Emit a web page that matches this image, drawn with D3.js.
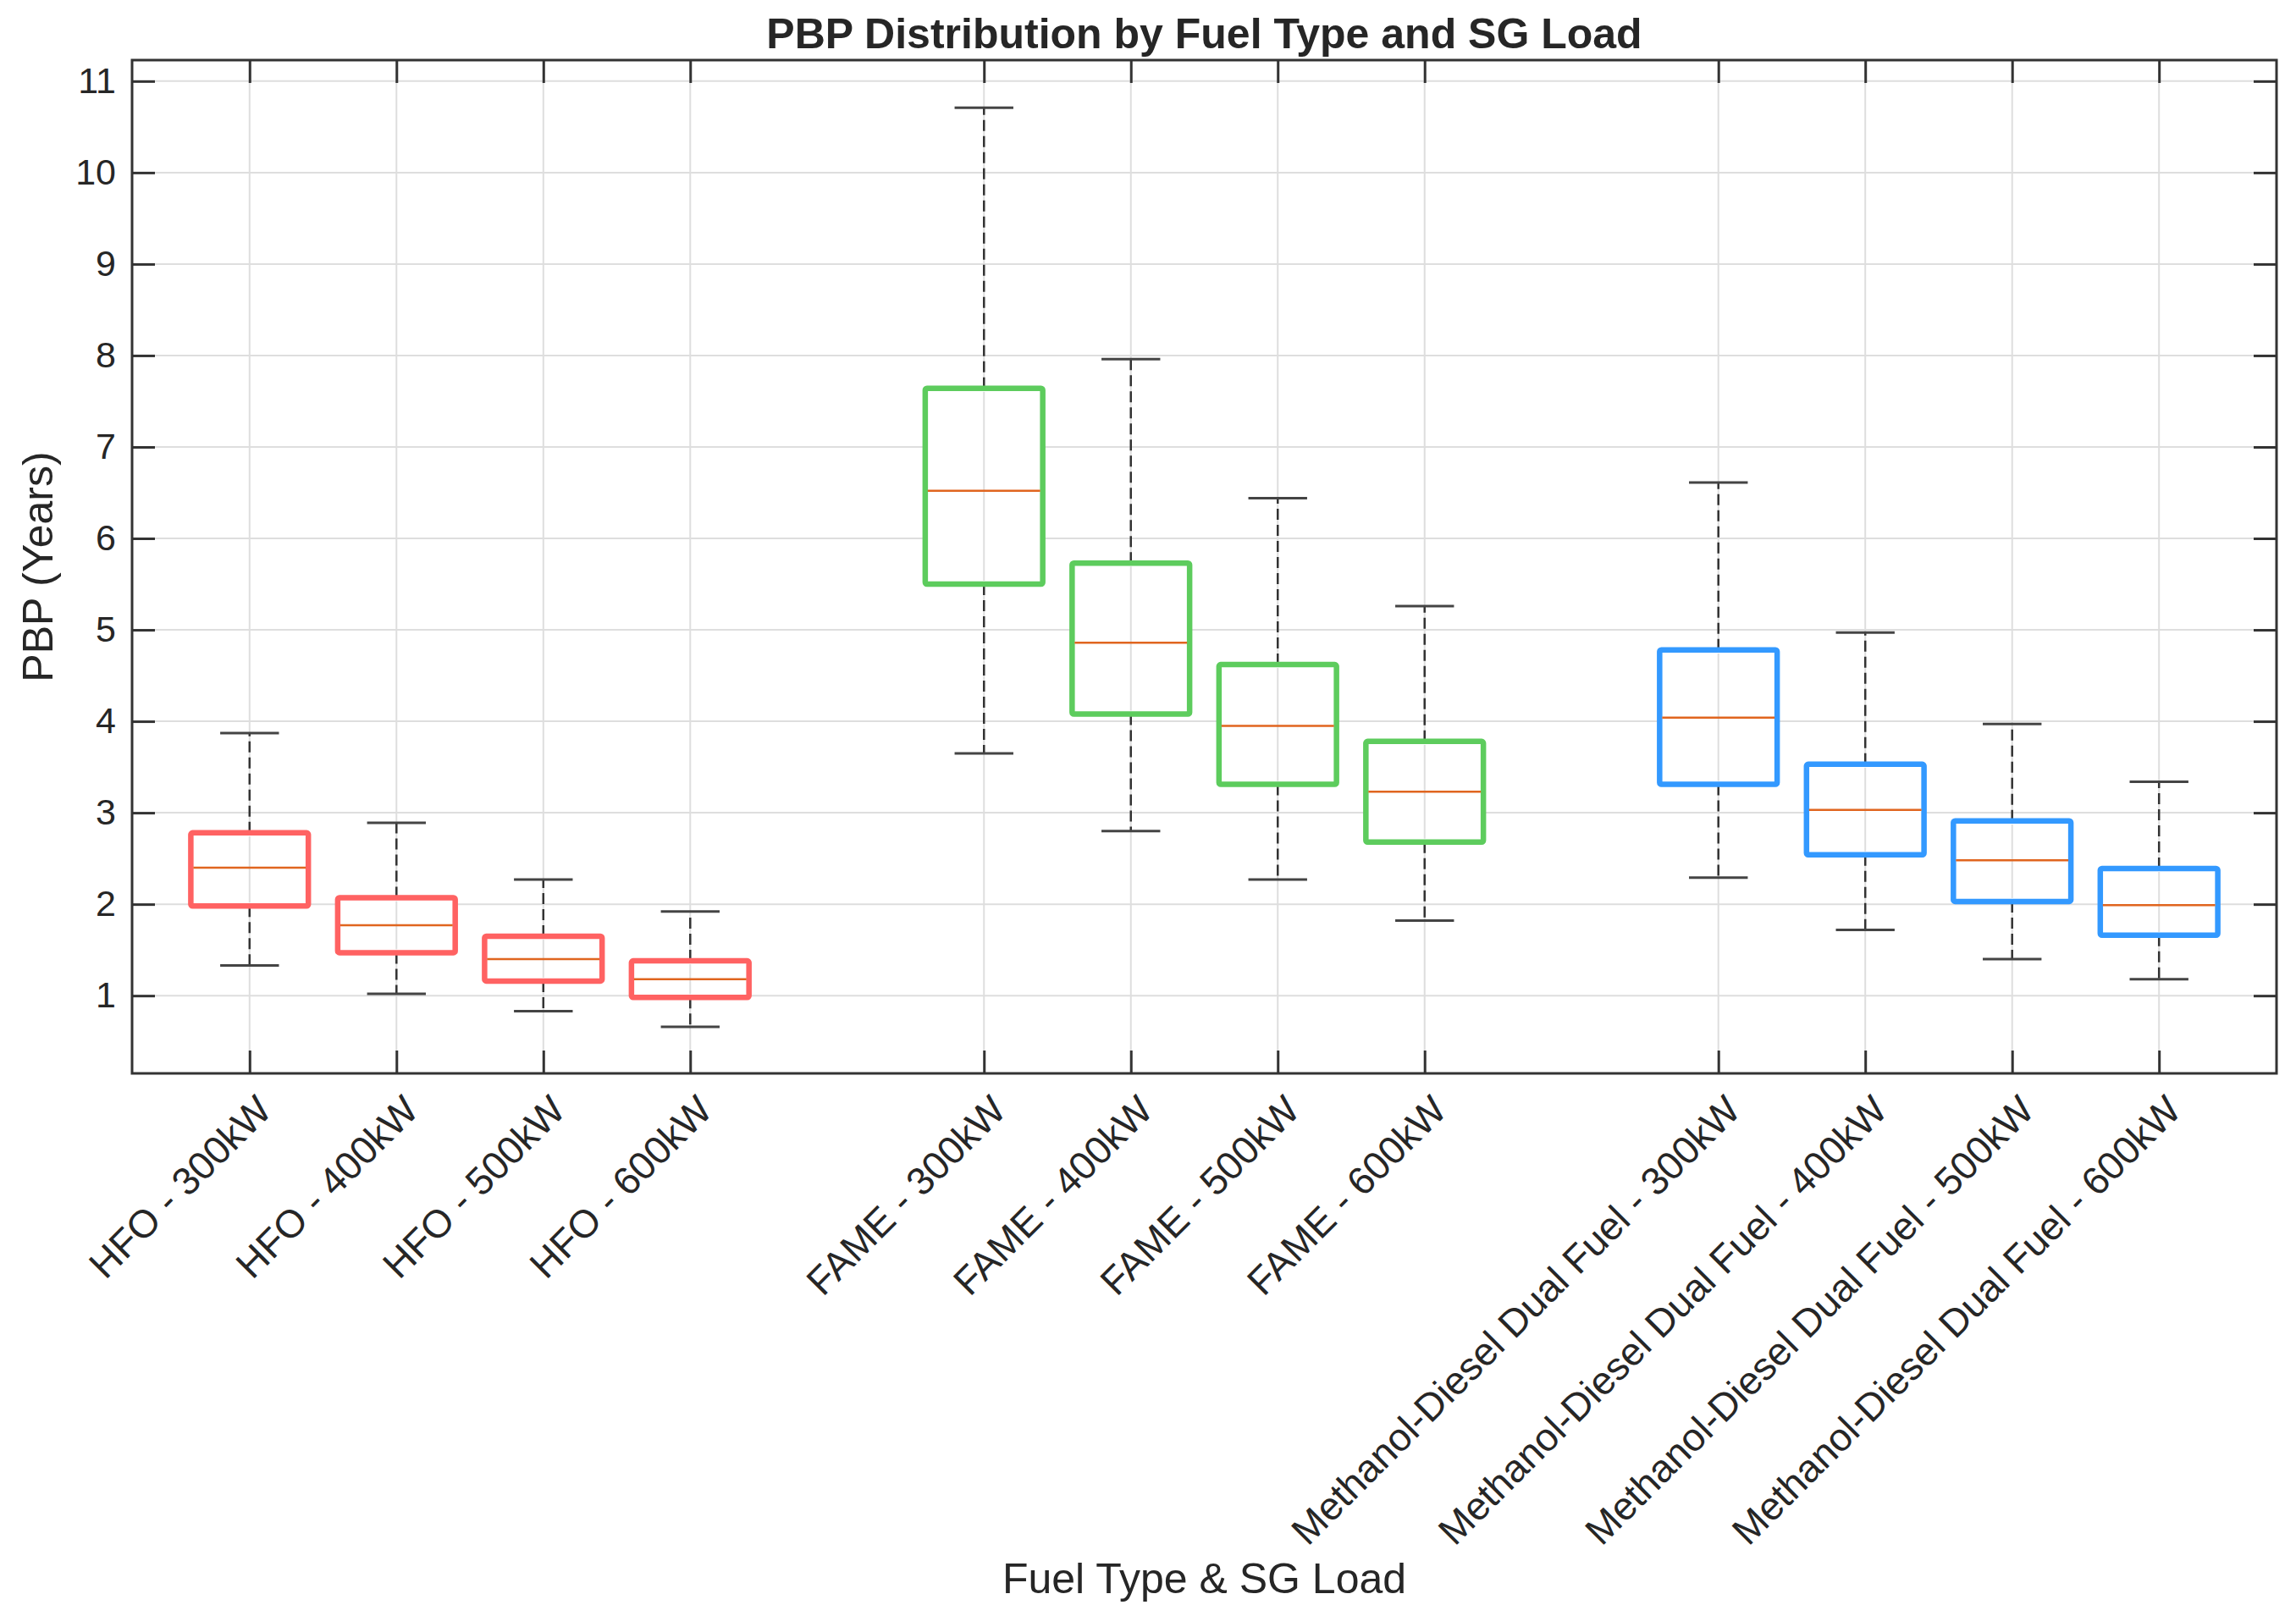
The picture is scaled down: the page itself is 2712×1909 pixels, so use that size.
<!DOCTYPE html>
<html>
<head>
<meta charset="utf-8">
<script src="https://cdn.jsdelivr.net/npm/d3@7"></script>
<style>
  body { margin: 0; background: #fff; }
  text { font-family: "Liberation Sans", Arial, Helvetica, sans-serif; fill: #262626; }
</style>
</head>
<body>
<div id="chart"></div>
<script>
// Categories (x tick labels) and their positions on the axis
var labels = [
  "HFO - 300kW", "HFO - 400kW", "HFO - 500kW", "HFO - 600kW",
  "FAME - 300kW", "FAME - 400kW", "FAME - 500kW", "FAME - 600kW",
  "Methanol-Diesel Dual Fuel - 300kW", "Methanol-Diesel Dual Fuel - 400kW",
  "Methanol-Diesel Dual Fuel - 500kW", "Methanol-Diesel Dual Fuel - 600kW"
];
var positions = [1, 2, 3, 4, 6, 7, 8, 9, 11, 12, 13, 14];
var fuel = ["HFO", "HFO", "HFO", "HFO", "FAME", "FAME", "FAME", "FAME", "MDF", "MDF", "MDF", "MDF"];

// Box statistics (years)
var whiskerLow  = [1.33, 1.02, 0.83, 0.66, 3.65, 2.80, 2.27, 1.82, 2.29, 1.72, 1.40, 1.18];
var q1          = [1.98, 1.47, 1.16, 0.98, 5.50, 4.08, 3.31, 2.68, 3.31, 2.54, 2.03, 1.66];
var median      = [2.40, 1.77, 1.40, 1.18, 6.52, 4.86, 3.95, 3.23, 4.04, 3.03, 2.48, 1.99];
var q3          = [2.78, 2.07, 1.65, 1.38, 7.64, 5.73, 4.62, 3.78, 4.78, 3.53, 2.91, 2.39];
var whiskerHigh = [3.87, 2.89, 2.27, 1.92, 10.71, 7.96, 6.44, 5.26, 6.61, 4.97, 3.97, 3.34];

var yTicks = [1, 2, 3, 4, 5, 6, 7, 8, 9, 10, 11];

var colors = { HFO: "#ff6262", FAME: "#5dcc5d", MDF: "#3399ff" };

var W = 2712, H = 1909;
var margin = {top: 71, right: 23, bottom: 641, left: 156};
var width = W - margin.left - margin.right,
    height = H - margin.top - margin.bottom;

var svg = d3.select("#chart")
  .append("svg")
    .attr("width", W)
    .attr("height", H);

var g = svg.append("g")
  .attr("transform", "translate(" + margin.left + "," + margin.top + ")");

var x = d3.scaleLinear().domain([0.2, 14.8]).range([0, width]);
var y = d3.scaleLinear().domain([0.15, 11.23]).range([height, 0]);

var rows = labels.map(function(l, i) {
  return { label: l, pos: positions[i], fuel: fuel[i],
           lo: whiskerLow[i], q1: q1[i], med: median[i], q3: q3[i], hi: whiskerHigh[i] };
});

// grid
g.append("g")
  .selectAll("line").data(yTicks).join("line")
    .attr("x1", 0).attr("x2", width)
    .attr("y1", d => y(d)).attr("y2", d => y(d))
    .attr("stroke", "#dedede").attr("stroke-width", 2);
g.append("g")
  .selectAll("line").data(positions).join("line")
    .attr("y1", 0).attr("y2", height)
    .attr("x1", d => x(d)).attr("x2", d => x(d))
    .attr("stroke", "#dedede").attr("stroke-width", 2);

// axes (ticks inside, on all four sides)
var tickLen = 27;
var yAxis = g.append("g")
  .call(d3.axisLeft(y).tickValues(yTicks).tickFormat(d3.format("d")).tickSizeInner(-tickLen).tickSizeOuter(0).tickPadding(19));
yAxis.select(".domain").remove();
yAxis.selectAll("line").attr("stroke", "#333").attr("stroke-width", 3);
yAxis.selectAll("text").attr("font-size", 43).attr("fill", "#262626");

var yAxisR = g.append("g").attr("transform", "translate(" + width + ",0)")
  .call(d3.axisRight(y).tickValues(yTicks).tickSizeInner(-tickLen).tickSizeOuter(0).tickFormat(""));
yAxisR.select(".domain").remove();
yAxisR.selectAll("line").attr("stroke", "#333").attr("stroke-width", 3);

var xAxis = g.append("g").attr("transform", "translate(0," + height + ")")
  .call(d3.axisBottom(x).tickValues(positions).tickSizeInner(-tickLen).tickSizeOuter(0)
        .tickFormat((d, i) => labels[i]));
xAxis.select(".domain").remove();
xAxis.selectAll("line").attr("stroke", "#333").attr("stroke-width", 3);
xAxis.selectAll("text")
  .attr("font-size", 46)
  .attr("fill", "#262626")
  .attr("text-anchor", "end")
  .attr("dy", null)
  .attr("y", null)
  .attr("transform", "translate(28,46) rotate(-45)");

var xAxisT = g.append("g")
  .call(d3.axisTop(x).tickValues(positions).tickSizeInner(-tickLen).tickSizeOuter(0).tickFormat(""));
xAxisT.select(".domain").remove();
xAxisT.selectAll("line").attr("stroke", "#333").attr("stroke-width", 3);

// box frame
g.append("rect")
  .attr("x", 0).attr("y", 0).attr("width", width).attr("height", height)
  .attr("fill", "none").attr("stroke", "#333").attr("stroke-width", 3);

// boxes
var boxW = x(0.8) - x(0);
var capW = x(0.4) - x(0);
var boxes = g.append("g").selectAll("g").data(rows).join("g");

// whiskers
boxes.append("line")
  .attr("x1", d => x(d.pos)).attr("x2", d => x(d.pos))
  .attr("y1", d => y(d.q3)).attr("y2", d => y(d.hi))
  .attr("stroke", "#333").attr("stroke-width", 2.5).attr("stroke-dasharray", "13,6");
boxes.append("line")
  .attr("x1", d => x(d.pos)).attr("x2", d => x(d.pos))
  .attr("y1", d => y(d.q1)).attr("y2", d => y(d.lo))
  .attr("stroke", "#333").attr("stroke-width", 2.5).attr("stroke-dasharray", "13,6");
// caps
boxes.append("line")
  .attr("x1", d => x(d.pos) - capW / 2).attr("x2", d => x(d.pos) + capW / 2)
  .attr("y1", d => y(d.hi)).attr("y2", d => y(d.hi))
  .attr("stroke", "#444").attr("stroke-width", 3);
boxes.append("line")
  .attr("x1", d => x(d.pos) - capW / 2).attr("x2", d => x(d.pos) + capW / 2)
  .attr("y1", d => y(d.lo)).attr("y2", d => y(d.lo))
  .attr("stroke", "#444").attr("stroke-width", 3);
// box
boxes.append("rect")
  .attr("x", d => x(d.pos) - boxW / 2)
  .attr("width", boxW)
  .attr("y", d => y(d.q3))
  .attr("height", d => y(d.q1) - y(d.q3))
  .attr("fill", "#fff")
  .attr("stroke", d => colors[d.fuel])
  .attr("stroke-width", 6.5)
  .attr("rx", 2);
// grid line shows through the box in the reference
boxes.append("line")
  .attr("x1", d => x(d.pos)).attr("x2", d => x(d.pos))
  .attr("y1", d => y(d.q3) + 4).attr("y2", d => y(d.q1) - 4)
  .attr("stroke", "#dedede").attr("stroke-width", 2);
// median
boxes.append("line")
  .attr("x1", d => x(d.pos) - boxW / 2 + 3).attr("x2", d => x(d.pos) + boxW / 2 - 3)
  .attr("y1", d => y(d.med)).attr("y2", d => y(d.med))
  .attr("stroke", "#e0651f").attr("stroke-width", 2.5);

// title and axis labels
svg.append("text")
  .attr("x", margin.left + width / 2).attr("y", 57)
  .attr("text-anchor", "middle")
  .attr("font-size", 50).attr("font-weight", "bold")
  .text("PBP Distribution by Fuel Type and SG Load");

svg.append("text")
  .attr("transform", "translate(62," + (margin.top + height / 2) + ") rotate(-90)")
  .attr("text-anchor", "middle")
  .attr("font-size", 50)
  .text("PBP (Years)");

svg.append("text")
  .attr("x", margin.left + width / 2).attr("y", 1882)
  .attr("text-anchor", "middle")
  .attr("font-size", 50)
  .text("Fuel Type & SG Load");
</script>
</body>
</html>
